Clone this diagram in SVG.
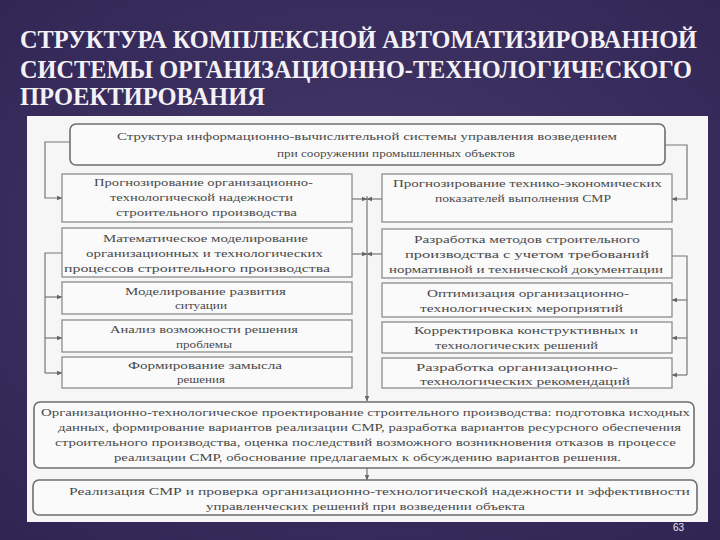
<svg xmlns="http://www.w3.org/2000/svg" width="720" height="540" viewBox="0 0 720 540">
<defs>
<radialGradient id="bg" cx="50%" cy="45%" r="75%">
<stop offset="0" stop-color="#46396c"/>
<stop offset="1" stop-color="#2f2452"/>
</radialGradient>
<marker id="ah" viewBox="0 0 10 10" refX="9" refY="5" markerWidth="5" markerHeight="5" orient="auto">
<path d="M0,1 L10,5 L0,9 z" fill="#666"/>
</marker>
<style>
.title{font-weight:bold;font-size:25px;fill:#f4f1f6}
.box{fill:#fafafa;stroke:#8c8c8c;stroke-width:1.3}
.rbox{fill:#fafafa;stroke:#6e6e6e;stroke-width:1.6}
.t{font-size:11px;fill:#4a4a4a}
.c{fill:none;stroke:#777;stroke-width:1.2}
.ca{fill:none;stroke:#777;stroke-width:1.2;marker-end:url(#ah)}
.pg{font-size:10px;fill:#e8e4ee}
</style>
</defs>
<rect x="0" y="0" width="720" height="540" fill="url(#bg)"/>
<g id="title" font-family="'Liberation Serif', 'DejaVu Serif', serif">
<text class="title" x="20" y="48" textLength="677" lengthAdjust="spacingAndGlyphs">СТРУКТУРА КОМПЛЕКСНОЙ АВТОМАТИЗИРОВАННОЙ</text>
<text class="title" x="20" y="78" textLength="672" lengthAdjust="spacingAndGlyphs">СИСТЕМЫ ОРГАНИЗАЦИОННО-ТЕХНОЛОГИЧЕСКОГО</text>
<text class="title" x="20" y="105" textLength="245" lengthAdjust="spacingAndGlyphs">ПРОЕКТИРОВАНИЯ</text>
</g>
<rect x="27" y="116" width="681" height="406" fill="#f6f6f6"/>
<g id="connectors">
<polyline class="ca" points="70,142 45,142 45,198 62,198"/>
<polyline class="ca" points="665,145 687,145 687,199 672,199"/>
<line class="ca" x1="352" y1="199" x2="367" y2="199"/>
<line class="ca" x1="382" y1="199" x2="367" y2="199"/>
<line class="ca" x1="352" y1="254" x2="367" y2="254"/>
<line class="ca" x1="382" y1="254" x2="367" y2="254"/>
<line class="ca" x1="367" y1="196" x2="367" y2="401"/>
<polyline class="c" points="62,253 45,253 45,373"/>
<line class="ca" x1="45" y1="297" x2="62" y2="297"/>
<line class="ca" x1="45" y1="338" x2="62" y2="338"/>
<line class="ca" x1="45" y1="373" x2="62" y2="373"/>
<polyline class="c" points="672,256 687,256 687,375"/>
<line class="ca" x1="687" y1="300" x2="672" y2="300"/>
<line class="ca" x1="687" y1="338" x2="672" y2="338"/>
<line class="ca" x1="687" y1="375" x2="672" y2="375"/>
<line class="ca" x1="367" y1="468" x2="367" y2="480"/>
</g>
<g font-family="'Liberation Serif', 'DejaVu Serif', serif">
<g id="top">
<rect class="rbox" x="70" y="124" width="595" height="41" rx="6"/>
<text class="t" x="117" y="140" textLength="500" lengthAdjust="spacingAndGlyphs">Структура информационно-вычислительной системы управления возведением</text>
<text class="t" x="277" y="157" textLength="238" lengthAdjust="spacingAndGlyphs">при сооружении промышленных объектов</text>
</g>
<g id="L1">
<rect class="box" x="62" y="174" width="290" height="48"/>
<text class="t" x="94" y="186" textLength="219" lengthAdjust="spacingAndGlyphs">Прогнозирование организационно-</text>
<text class="t" x="110" y="201" textLength="183" lengthAdjust="spacingAndGlyphs">технологической надежности</text>
<text class="t" x="116" y="216" textLength="181" lengthAdjust="spacingAndGlyphs">строительного производства</text>
</g>
<g id="R1">
<rect class="box" x="382" y="174" width="290" height="48"/>
<text class="t" x="393" y="187" textLength="269" lengthAdjust="spacingAndGlyphs">Прогнозирование технико-экономических</text>
<text class="t" x="435" y="202" textLength="176" lengthAdjust="spacingAndGlyphs">показателей выполнения СМР</text>
</g>
<g id="L2">
<rect class="box" x="62" y="228" width="290" height="49"/>
<text class="t" x="103" y="242" textLength="205" lengthAdjust="spacingAndGlyphs">Математическое моделирование</text>
<text class="t" x="86" y="257" textLength="237" lengthAdjust="spacingAndGlyphs">организационных и технологических</text>
<text class="t" x="64" y="272" textLength="266" lengthAdjust="spacingAndGlyphs">процессов строительного производства</text>
</g>
<g id="R2">
<rect class="box" x="382" y="229" width="290" height="49"/>
<text class="t" x="414" y="243" textLength="226" lengthAdjust="spacingAndGlyphs">Разработка методов строительного</text>
<text class="t" x="405" y="258" textLength="244" lengthAdjust="spacingAndGlyphs">производства с учетом требований</text>
<text class="t" x="389" y="273" textLength="274" lengthAdjust="spacingAndGlyphs">нормативной и технической документации</text>
</g>
<g id="L3">
<rect class="box" x="62" y="282" width="290" height="32"/>
<text class="t" x="125" y="295" textLength="161" lengthAdjust="spacingAndGlyphs">Моделирование развития</text>
<text class="t" x="175" y="309" textLength="52" lengthAdjust="spacingAndGlyphs">ситуации</text>
</g>
<g id="R3">
<rect class="box" x="382" y="283" width="290" height="34"/>
<text class="t" x="427" y="297" textLength="202" lengthAdjust="spacingAndGlyphs">Оптимизация организационно-</text>
<text class="t" x="420" y="312" textLength="203" lengthAdjust="spacingAndGlyphs">технологических мероприятий</text>
</g>
<g id="L4">
<rect class="box" x="62" y="320" width="290" height="32"/>
<text class="t" x="110" y="333" textLength="188" lengthAdjust="spacingAndGlyphs">Анализ возможности решения</text>
<text class="t" x="176" y="348" textLength="56" lengthAdjust="spacingAndGlyphs">проблемы</text>
</g>
<g id="R4">
<rect class="box" x="382" y="322" width="290" height="31"/>
<text class="t" x="414" y="334" textLength="224" lengthAdjust="spacingAndGlyphs">Корректировка конструктивных и</text>
<text class="t" x="435" y="349" textLength="163" lengthAdjust="spacingAndGlyphs">технологических решений</text>
</g>
<g id="L5">
<rect class="box" x="62" y="357" width="290" height="31"/>
<text class="t" x="128" y="369" textLength="154" lengthAdjust="spacingAndGlyphs">Формирование замысла</text>
<text class="t" x="177" y="383" textLength="48" lengthAdjust="spacingAndGlyphs">решения</text>
</g>
<g id="R5">
<rect class="box" x="382" y="358" width="290" height="30"/>
<text class="t" x="416" y="371" textLength="202" lengthAdjust="spacingAndGlyphs">Разработка организационно-</text>
<text class="t" x="420" y="385" textLength="210" lengthAdjust="spacingAndGlyphs">технологических рекомендаций</text>
</g>
<g id="design">
<rect class="rbox" x="34" y="402" width="660" height="66" rx="6"/>
<text class="t" x="41" y="416" textLength="649" lengthAdjust="spacingAndGlyphs">Организационно-технологическое проектирование строительного производства: подготовка исходных</text>
<text class="t" x="58" y="431" textLength="623" lengthAdjust="spacingAndGlyphs">данных, формирование вариантов реализации СМР, разработка вариантов ресурсного обеспечения</text>
<text class="t" x="55" y="446" textLength="621" lengthAdjust="spacingAndGlyphs">строительного производства, оценка последствий возможного возникновения отказов в процессе</text>
<text class="t" x="114" y="461" textLength="507" lengthAdjust="spacingAndGlyphs">реализации СМР, обоснование предлагаемых к обсуждению вариантов решения.</text>
</g>
<g id="realization">
<rect class="rbox" x="33" y="480" width="664" height="35" rx="6"/>
<text class="t" x="69" y="495" textLength="621" lengthAdjust="spacingAndGlyphs">Реализация СМР и проверка организационно-технологической надежности и эффективности</text>
<text class="t" x="206" y="510" textLength="319" lengthAdjust="spacingAndGlyphs">управленческих решений при возведении объекта</text>
</g>
</g>
<text class="pg" x="673" y="531" font-family="'Liberation Sans', Arial, sans-serif">63</text>
</svg>
